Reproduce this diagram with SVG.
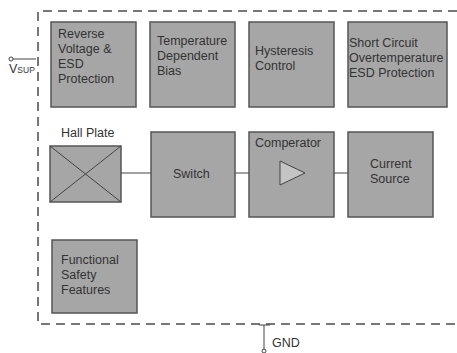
<svg xmlns="http://www.w3.org/2000/svg" width="457" height="353" viewBox="0 0 457 353">
<style>
.box{fill:#a6a6a6;stroke:#555;stroke-width:1.5}
.t{font-family:"Liberation Sans",Arial,sans-serif;font-size:12.5px;fill:#333}
.ln{stroke:#444;stroke-width:1;fill:none}
.dash{stroke:#777;stroke-width:2;fill:none;stroke-dasharray:9,6}
</style>
<rect width="457" height="353" fill="#fff"/>
<path class="dash" d="M457,11 H38 V324 H457"/>
<g id="connectors">
<line class="ln" x1="121" y1="173" x2="151" y2="173"/>
<line class="ln" x1="235" y1="173" x2="249" y2="173"/>
<line class="ln" x1="334" y1="173" x2="348" y2="173"/>
</g>
<g id="vsup">
<circle cx="11" cy="59" r="2" fill="#fff" stroke="#444" stroke-width="1"/>
<line class="ln" x1="13" y1="59" x2="36" y2="59"/>
<text class="t" x="9" y="73" font-size="13">V<tspan font-size="8.5">SUP</tspan></text>
</g>
<g id="gnd">
<line class="ln" x1="264" y1="325" x2="264" y2="349"/>
<line class="ln" x1="259" y1="325" x2="270" y2="325"/>
<circle cx="264" cy="351" r="2" fill="#fff" stroke="#444" stroke-width="1"/>
<text class="t" x="272" y="347">GND</text>
</g>
<g id="reverse">
<rect class="box" x="51" y="22" width="85" height="85"/>
<text class="t" x="58" y="38">Reverse</text>
<text class="t" x="58" y="53">Voltage &amp;</text>
<text class="t" x="58" y="68">ESD</text>
<text class="t" x="58" y="83">Protection</text>
</g>
<g id="temp">
<rect class="box" x="150" y="22" width="85" height="85"/>
<text class="t" x="157" y="45">Temperature</text>
<text class="t" x="157" y="60">Dependent</text>
<text class="t" x="157" y="75">Bias</text>
</g>
<g id="hyst">
<rect class="box" x="249" y="22" width="85" height="85"/>
<text class="t" x="255" y="55">Hysteresis</text>
<text class="t" x="255" y="70">Control</text>
</g>
<g id="short">
<rect class="box" x="348" y="22" width="99" height="85"/>
<text class="t" x="349" y="47">Short Circuit</text>
<text class="t" x="349" y="62">Overtemperature</text>
<text class="t" x="349" y="77">ESD Protection</text>
</g>
<g id="hall">
<text class="t" x="61" y="137">Hall Plate</text>
<rect class="box" x="50" y="146" width="71" height="56"/>
<path class="ln" d="M50,146 L121,202 M121,146 L50,202"/>
</g>
<g id="switch">
<rect class="box" x="151" y="132" width="84" height="85"/>
<text class="t" x="173" y="178">Switch</text>
</g>
<g id="comp">
<rect class="box" x="249" y="132" width="85" height="85"/>
<text class="t" x="255" y="147">Comperator</text>
<polygon points="280,161 305,173 280,185" fill="#c4c4c4" stroke="#444" stroke-width="1"/>
</g>
<g id="current">
<rect class="box" x="348" y="132" width="85" height="85"/>
<text class="t" x="370" y="168">Current</text>
<text class="t" x="370" y="183">Source</text>
</g>
<g id="safety">
<rect class="box" x="52" y="240" width="85" height="73"/>
<text class="t" x="61" y="264">Functional</text>
<text class="t" x="61" y="279">Safety</text>
<text class="t" x="61" y="294">Features</text>
</g>
</svg>
